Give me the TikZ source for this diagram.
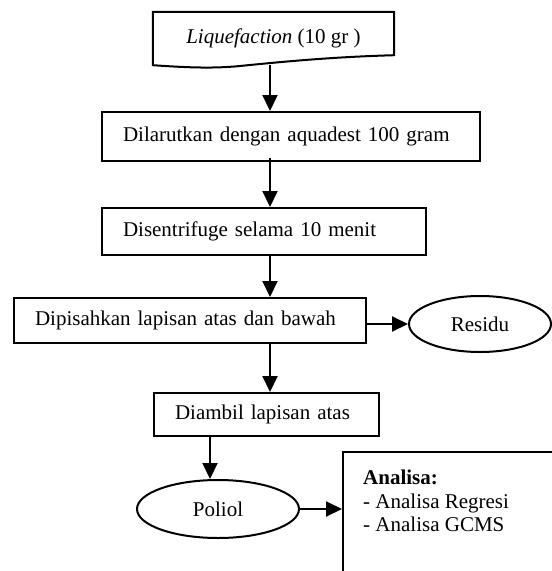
\documentclass[tikz,border=0pt]{standalone}
\usepackage{fontspec}
\setmainfont{Liberation Serif}
\usetikzlibrary{arrows.meta,shapes.geometric}
\begin{document}
\begin{tikzpicture}[x=1pt,y=-1pt,
  every node/.style={font=\fontsize{21}{23.5}\selectfont},
  stepbox/.style={draw,line width=2pt,rectangle,inner xsep=21pt,inner ysep=0pt,align=left},
  oval/.style={draw,line width=2pt,ellipse,inner sep=0pt},
  arr/.style={line width=2pt,-{Triangle[length=16pt,width=15pt]}}]
\useasboundingbox (0,0) rectangle (552,571);
\clip (0,0) rectangle (552,571);
% document shape
\node[minimum width=241pt,minimum height=53pt,inner sep=0pt] (doc) at (273.5,38.5) {\textit{Liquefaction} (10 gr )};
\draw[line width=2pt] (doc.south west) -- (doc.north west) -- (doc.north east) -- ([yshift=10pt]doc.south east)
  .. controls (330,57) and (280,62) .. (240,66) .. controls (210,69) and (180,67) .. (doc.south west) -- cycle;
\node[stepbox,minimum width=378pt,minimum height=49pt,text width=336pt] (b2) at (291,136.5) {Dilarutkan dengan aquadest 100 gram};
\node[stepbox,minimum width=324pt,minimum height=47pt,text width=282pt] (b3) at (264,231.5) {Disentrifuge selama 10 menit};
\node[stepbox,minimum width=352pt,minimum height=45pt,text width=310pt] (b4) at (190,320.5) {Dipisahkan lapisan atas dan bawah};
\node[oval,minimum width=142pt,minimum height=56pt] (res) at (480,324) {Residu};
\node[stepbox,minimum width=224.5pt,minimum height=43pt,text width=182.5pt] (b5) at (266.25,414.5) {Diambil lapisan atas};
\node[oval,minimum width=162pt,minimum height=58pt] (pol) at (218,509) {Poliol};
\node[draw,line width=2pt,rectangle,anchor=north west,minimum width=260pt,minimum height=160pt,inner sep=0pt] (ana) at (342,451) {};
\node[anchor=north west,align=left,inner sep=0pt] (anatext) at (363,470) {\textbf{Analisa:}\\- Analisa Regresi\\- Analisa GCMS};
\coordinate (colA) at (270,0);
\coordinate (colB) at (210,0);
\draw[arr] (doc.south -| colA) -- (b2.north -| colA);
\draw[arr] ([yshift=4pt]b2.south -| colA) -- (b3.north -| colA);
\draw[arr] (b3.south -| colA) -- (b4.north -| colA);
\draw[arr] (b4.east |- res) -- (res.west);
\draw[arr] (b4.south -| colA) -- (b5.north -| colA);
\draw[arr] (b5.south -| colB) -- (pol.north -| colB);
\draw[arr] (pol.east) -- (ana.west |- pol);
\end{tikzpicture}
\end{document}
